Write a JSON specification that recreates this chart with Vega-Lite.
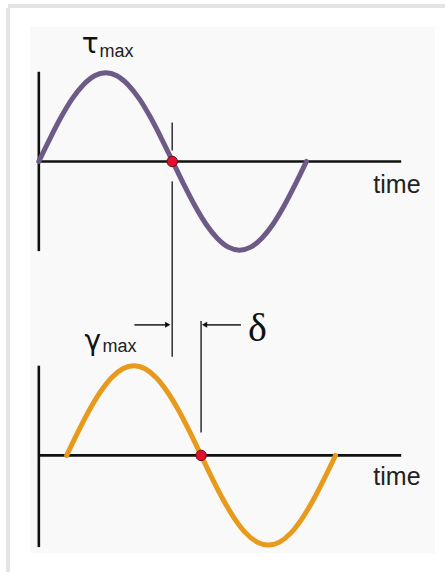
{
  "$schema": "https://vega.github.io/schema/vega-lite/v6.json",
  "width": 447,
  "height": 574,
  "autosize": {"type": "fit", "contains": "padding"},
  "padding": 0,
  "background": "#ffffff",
  "config": {"view": {"stroke": null}},
  "datasets": {
    "panel": [{"x": 30, "x2": 437, "y": 27, "y2": 555}],
    "shadow": [
      {"x": 8, "x2": 8, "y": 8, "y2": 574},
      {"x": 8, "x2": 447, "y": 6, "y2": 6}
    ],
    "axes": [
      {"x": 39, "x2": 39, "y": 72, "y2": 252},
      {"x": 39, "x2": 403, "y": 162, "y2": 162},
      {"x": 39, "x2": 39, "y": 367, "y2": 549},
      {"x": 39, "x2": 403, "y": 457, "y2": 457}
    ],
    "markers": [
      {"x": 173, "x2": 173, "y": 123, "y2": 151},
      {"x": 173, "x2": 173, "y": 182, "y2": 358},
      {"x": 202, "x2": 202, "y": 322, "y2": 434},
      {"x": 135, "x2": 168, "y": 326, "y2": 326},
      {"x": 242, "x2": 206, "y": 326, "y2": 326}
    ],
    "heads": [
      {"x": 168.5, "y": 326, "dir": "right"},
      {"x": 205.5, "y": 326, "dir": "left"}
    ],
    "curves": [
      {"series": "tau", "i": 0, "x": 39, "y": 162},
      {"series": "tau", "i": 1, "x": 50.2, "y": 139},
      {"series": "tau", "i": 2, "x": 61.4, "y": 117.5},
      {"series": "tau", "i": 3, "x": 72.6, "y": 99},
      {"series": "tau", "i": 4, "x": 83.8, "y": 85},
      {"series": "tau", "i": 5, "x": 95, "y": 76},
      {"series": "tau", "i": 6, "x": 106.2, "y": 73},
      {"series": "tau", "i": 7, "x": 117.4, "y": 76},
      {"series": "tau", "i": 8, "x": 128.6, "y": 85},
      {"series": "tau", "i": 9, "x": 139.8, "y": 99},
      {"series": "tau", "i": 10, "x": 151, "y": 117.5},
      {"series": "tau", "i": 11, "x": 162.2, "y": 139},
      {"series": "tau", "i": 12, "x": 173.4, "y": 162},
      {"series": "tau", "i": 13, "x": 184.6, "y": 185},
      {"series": "tau", "i": 14, "x": 195.8, "y": 206.5},
      {"series": "tau", "i": 15, "x": 207, "y": 225},
      {"series": "tau", "i": 16, "x": 218.2, "y": 239},
      {"series": "tau", "i": 17, "x": 229.4, "y": 248},
      {"series": "tau", "i": 18, "x": 240.6, "y": 251},
      {"series": "tau", "i": 19, "x": 251.8, "y": 248},
      {"series": "tau", "i": 20, "x": 263, "y": 239},
      {"series": "tau", "i": 21, "x": 274.2, "y": 225},
      {"series": "tau", "i": 22, "x": 285.4, "y": 206.5},
      {"series": "tau", "i": 23, "x": 296.6, "y": 185},
      {"series": "tau", "i": 24, "x": 307.8, "y": 162},
      {"series": "gamma", "i": 0, "x": 67, "y": 457},
      {"series": "gamma", "i": 1, "x": 78.25, "y": 433.7},
      {"series": "gamma", "i": 2, "x": 89.5, "y": 412},
      {"series": "gamma", "i": 3, "x": 100.75, "y": 393.4},
      {"series": "gamma", "i": 4, "x": 112, "y": 379},
      {"series": "gamma", "i": 5, "x": 123.25, "y": 370},
      {"series": "gamma", "i": 6, "x": 134.5, "y": 367},
      {"series": "gamma", "i": 7, "x": 145.75, "y": 370},
      {"series": "gamma", "i": 8, "x": 157, "y": 379},
      {"series": "gamma", "i": 9, "x": 168.25, "y": 393.4},
      {"series": "gamma", "i": 10, "x": 179.5, "y": 412},
      {"series": "gamma", "i": 11, "x": 190.75, "y": 433.7},
      {"series": "gamma", "i": 12, "x": 202, "y": 457},
      {"series": "gamma", "i": 13, "x": 213.25, "y": 480.3},
      {"series": "gamma", "i": 14, "x": 224.5, "y": 502},
      {"series": "gamma", "i": 15, "x": 235.75, "y": 520.6},
      {"series": "gamma", "i": 16, "x": 247, "y": 535},
      {"series": "gamma", "i": 17, "x": 258.25, "y": 544},
      {"series": "gamma", "i": 18, "x": 269.5, "y": 547},
      {"series": "gamma", "i": 19, "x": 280.75, "y": 544},
      {"series": "gamma", "i": 20, "x": 292, "y": 535},
      {"series": "gamma", "i": 21, "x": 303.25, "y": 520.6},
      {"series": "gamma", "i": 22, "x": 314.5, "y": 502},
      {"series": "gamma", "i": 23, "x": 325.75, "y": 480.3},
      {"series": "gamma", "i": 24, "x": 337, "y": 457}
    ],
    "dots": [
      {"x": 173, "y": 162},
      {"x": 202, "y": 457}
    ],
    "sans": [
      {"x": 375, "y": 194, "t": "time", "s": 25},
      {"x": 375, "y": 487, "t": "time", "s": 25},
      {"x": 100, "y": 57, "t": "max", "s": 18},
      {"x": 103, "y": 353, "t": "max", "s": 18}
    ],
    "greek": [
      {"x": 82, "y": 53, "t": "τ", "s": 28},
      {"x": 85, "y": 351, "t": "γ", "s": 28}
    ],
    "delta": [
      {"x": 249, "y": 342, "t": "δ", "s": 40}
    ]
  },
  "layer": [
    {
      "data": {"name": "panel"},
      "mark": {"type": "rect", "color": "#f9f9f9"},
      "encoding": {
        "x": {"field": "x", "type": "quantitative", "scale": {"domain": [0, 447], "nice": false, "zero": false}, "axis": null},
        "x2": {"field": "x2"},
        "y": {"field": "y", "type": "quantitative", "scale": {"domain": [0, 574], "nice": false, "zero": false, "reverse": true}, "axis": null},
        "y2": {"field": "y2"}
      }
    },
    {
      "data": {"name": "shadow"},
      "mark": {"type": "rule", "color": "#e4e4e4", "strokeWidth": 4},
      "encoding": {
        "x": {"field": "x", "type": "quantitative"},
        "x2": {"field": "x2"},
        "y": {"field": "y", "type": "quantitative"},
        "y2": {"field": "y2"}
      }
    },
    {
      "data": {"name": "axes"},
      "mark": {"type": "rule", "color": "#111111", "strokeWidth": 2.6},
      "encoding": {
        "x": {"field": "x", "type": "quantitative"},
        "x2": {"field": "x2"},
        "y": {"field": "y", "type": "quantitative"},
        "y2": {"field": "y2"}
      }
    },
    {
      "data": {"name": "markers"},
      "mark": {"type": "rule", "color": "#3a3a3a", "strokeWidth": 1.6},
      "encoding": {
        "x": {"field": "x", "type": "quantitative"},
        "x2": {"field": "x2"},
        "y": {"field": "y", "type": "quantitative"},
        "y2": {"field": "y2"}
      }
    },
    {
      "data": {"name": "heads"},
      "mark": {"type": "point", "filled": true, "color": "#111111", "size": 36, "opacity": 1},
      "encoding": {
        "x": {"field": "x", "type": "quantitative"},
        "y": {"field": "y", "type": "quantitative"},
        "shape": {"field": "dir", "type": "nominal", "scale": {"domain": ["right", "left"], "range": ["triangle-right", "triangle-left"]}, "legend": null}
      }
    },
    {
      "data": {"name": "curves"},
      "mark": {"type": "line", "strokeWidth": 5, "interpolate": "monotone", "strokeCap": "round"},
      "encoding": {
        "x": {"field": "x", "type": "quantitative"},
        "y": {"field": "y", "type": "quantitative"},
        "order": {"field": "i", "type": "quantitative"},
        "color": {"field": "series", "type": "nominal", "scale": {"domain": ["tau", "gamma"], "range": ["#6b5b86", "#e89a1c"]}, "legend": null}
      }
    },
    {
      "data": {"name": "dots"},
      "mark": {"type": "point", "filled": true, "fill": "#e2102c", "stroke": "#6a0a14", "strokeWidth": 1, "size": 110, "opacity": 1},
      "encoding": {
        "x": {"field": "x", "type": "quantitative"},
        "y": {"field": "y", "type": "quantitative"}
      }
    },
    {
      "data": {"name": "sans"},
      "mark": {"type": "text", "align": "left", "baseline": "alphabetic", "font": "Liberation Sans", "color": "#222222"},
      "encoding": {
        "x": {"field": "x", "type": "quantitative"},
        "y": {"field": "y", "type": "quantitative"},
        "text": {"field": "t"},
        "size": {"field": "s", "type": "quantitative", "scale": null}
      }
    },
    {
      "data": {"name": "greek"},
      "mark": {"type": "text", "align": "left", "baseline": "alphabetic", "font": "DejaVu Sans", "color": "#111111"},
      "encoding": {
        "x": {"field": "x", "type": "quantitative"},
        "y": {"field": "y", "type": "quantitative"},
        "text": {"field": "t"},
        "size": {"field": "s", "type": "quantitative", "scale": null}
      }
    },
    {
      "data": {"name": "delta"},
      "mark": {"type": "text", "align": "left", "baseline": "alphabetic", "font": "Liberation Serif", "color": "#111111"},
      "encoding": {
        "x": {"field": "x", "type": "quantitative"},
        "y": {"field": "y", "type": "quantitative"},
        "text": {"field": "t"},
        "size": {"field": "s", "type": "quantitative", "scale": null}
      }
    }
  ]
}
